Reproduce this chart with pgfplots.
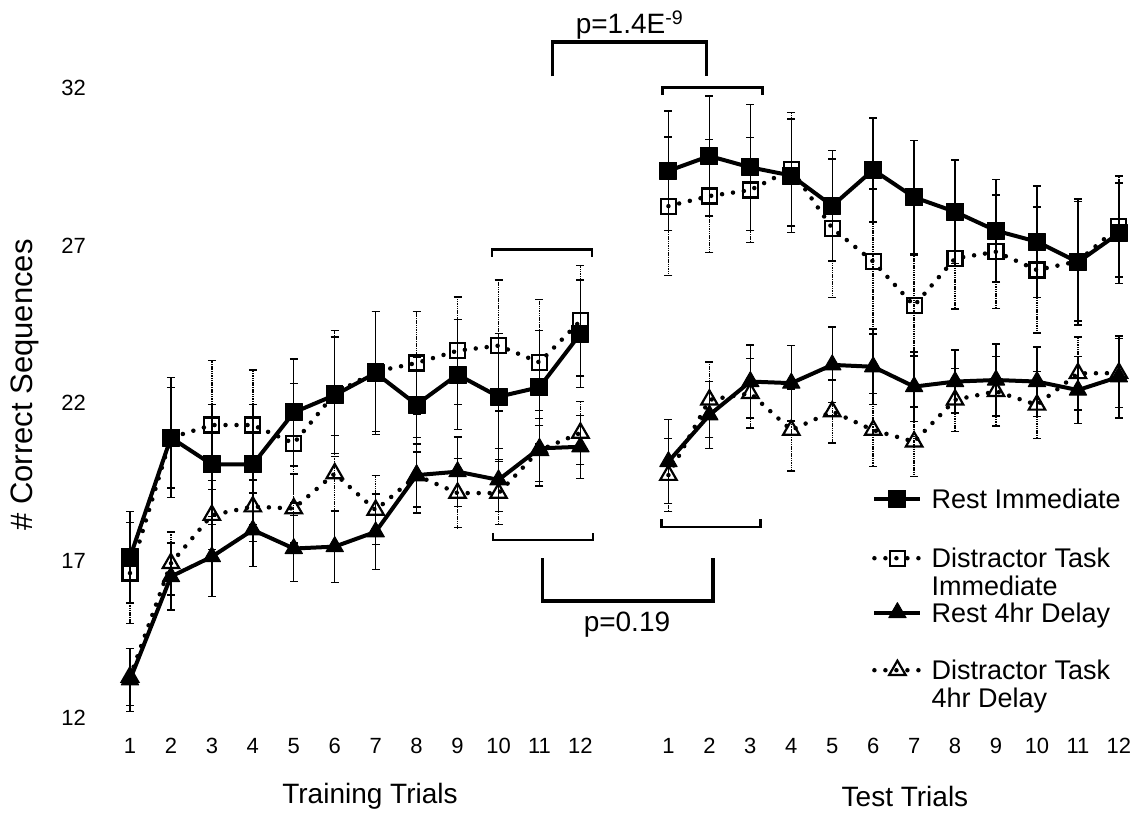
\documentclass[border=0pt]{standalone}
\usepackage{pgfplots}
\usepackage{pgfplotstable}
\pgfplotsset{compat=1.18}
\usepackage{fontspec}
\setmainfont{Liberation Sans}

\pgfplotstableread{
x y e
1 17.1 1.45
2 20.9 1.9
3 20.05 1.9
4 20.05 1.9
5 21.7 1.7
6 22.25 1.85
7 22.95 1.95
8 21.95 1.5
9 22.9 1.75
10 22.2 2.0
11 22.5 1.8
12 24.2 1.7
}\riL
\pgfplotstableread{
x y e
14.15 29.37 1.9
15.15 29.84 1.9
16.15 29.48 2.0
17.15 29.22 1.8
18.15 28.26 1.75
19.15 29.40 1.65
20.15 28.53 1.8
21.15 28.07 1.65
22.15 27.47 1.63
23.15 27.12 1.77
24.15 26.47 2.0
25.15 27.39 1.6
}\riR
\pgfplotstableread{
x y e
1 16.6 1.6
2 20.9 1.6
3 21.3 2.05
4 21.3 1.75
5 20.72 1.9
6 22.3 2.0
7 23.0 1.9
8 23.27 1.63
9 23.66 1.7
10 23.82 2.08
11 23.29 2.0
12 24.61 1.75
}\diL
\pgfplotstableread{
x y e
14.15 28.25 2.2
15.15 28.57 1.8
16.15 28.76 1.66
17.15 29.42 1.8
18.15 27.55 2.2
19.15 26.49 2.3
20.15 25.09 1.6
21.15 26.59 1.6
22.15 26.80 1.8
23.15 26.22 2.0
24.15 26.5 1.9
25.15 27.6 1.6
}\diR
\pgfplotstableread{
x y e
1 13.21 1.0
2 16.49 1.06
3 17.12 1.27
4 17.97 1.17
5 17.38 1.05
6 17.44 1.14
7 17.91 1.2
8 19.71 1.2
9 19.82 1.1
10 19.56 1.0
11 20.56 1.2
12 20.61 1.0
}\rfL
\pgfplotstableread{
x y e
14.15 20.14 1.34
15.15 21.62 1.06
16.15 22.68 1.16
17.15 22.63 1.2
18.15 23.21 1.2
19.15 23.15 1.2
20.15 22.52 1.1
21.15 22.68 1.0
22.15 22.73 1.14
23.15 22.68 1.1
24.15 22.41 1.06
25.15 22.83 1.3
}\rfR
\pgfplotstableread{
x y e
1 13.3 0.9
2 16.91 1.0
3 18.44 1.1
4 18.71 1.1
5 18.65 1.1
6 19.76 1.2
7 18.6 1.1
8 19.7 1.0
9 19.14 1.1
10 19.14 1.0
11 20.5 1.0
12 21.05 1.0
}\dfL
\pgfplotstableread{
x y e
14.15 19.71 1.16
15.15 22.1 1.2
16.15 22.31 1.1
17.15 21.14 1.3
18.15 21.73 1.0
19.15 21.14 1.16
20.15 20.77 1.1
21.15 22.1 1.0
22.15 22.37 1.1
23.15 21.94 1.06
24.15 22.94 1.16
25.15 22.95 1.1
}\dfR

\pgfplotsset{
  solidser/.style={black, line width=4pt, line join=round,
    error bars/y dir=both, error bars/y explicit,
    error bars/error bar style={line width=1.4pt, solid},
    error bars/error mark options={rotate=90, mark size=4pt, line width=1.4pt, solid}},
  dotser/.style={black, line width=4.5pt, line cap=round, dash pattern=on 0pt off 11pt,
    error bars/y dir=both, error bars/y explicit,
    error bars/error bar style={line width=1.4pt, dash pattern=on 1.5pt off 0.8pt, line cap=butt},
    error bars/error mark options={rotate=90, mark size=4pt, line width=1.4pt, solid}},
  sqF/.style={mark=square*, mark size=8.5pt, mark options={solid, line width=1pt}},
  sqO/.style={mark=square, mark size=7.5pt, mark options={solid, line width=2.2pt}},
  trF/.style={mark=triangle*, mark size=10pt, mark options={solid, line width=1pt}},
  trO/.style={mark=triangle, mark size=9.5pt, mark options={solid, line width=2.2pt}},
}

\begin{document}
\begin{tikzpicture}
\begin{axis}[
  scale only axis, width=1027.8pt, height=677.25pt,
  xmin=0.5, xmax=25.6, ymin=11.5, ymax=33,
  axis line style={draw=none}, tick style={draw=none},
  major tick length=0pt,
  clip=false,
  xtick={1,2,3,4,5,6,7,8,9,10,11,12,14.15,15.15,16.15,17.15,18.15,19.15,20.15,21.15,22.15,23.15,24.15,25.15},
  xticklabels={1,2,3,4,5,6,7,8,9,10,11,12,1,2,3,4,5,6,7,8,9,10,11,12},
  ytick={12,17,22,27,32},
  /pgf/number format/assume math mode=true,
  ticklabel style={font=\fontsize{22}{26}\selectfont},
  xticklabel style={yshift=-1pt},
  yticklabel style={xshift=-20pt},
  ylabel={\# Correct Sequences},
  ylabel style={font=\fontsize{31}{36}\selectfont, at={(axis description cs:-0.0822,0.515)}, anchor=center},
  legend style={at={(axis cs:19.12,19.365)}, anchor=north west, draw=none, fill=none,
    inner sep=0pt, row sep=0pt, column sep=7pt,
    cells={anchor=base west, inner sep=0pt},
    font=\fontsize{27}{28}\selectfont},
  legend image code/.code={\draw[mark repeat=2,mark phase=2] plot coordinates {(0pt,9.5pt) (23pt,9.5pt) (46pt,9.5pt)};},
]
\addplot[solidser, sqF] table[x=x,y=y,y error=e] {\riL};
\addlegendentry{\rule{0pt}{20pt}Rest Immediate}
\addplot[dotser, sqO] table[x=x,y=y,y error=e] {\diL};
\addlegendentry{\rule{0pt}{54pt}\smash{\vtop{\hbox{Distractor Task}\hbox{Immediate}}}}
\addplot[solidser, trF] table[x=x,y=y,y error=e] {\rfL};
\addlegendentry{\rule{0pt}{49pt}Rest 4hr Delay}
\addplot[dotser, trO] table[x=x,y=y,y error=e] {\dfL};
\addlegendentry{\rule{0pt}{52pt}\smash{\vtop{\hbox{Distractor Task}\hbox{4hr Delay}}}}

\addplot[solidser, sqF, forget plot] table[x=x,y=y,y error=e] {\riR};
\addplot[dotser, sqO, forget plot] table[x=x,y=y,y error=e] {\diR};
\addplot[solidser, trF, forget plot] table[x=x,y=y,y error=e] {\rfR};
\addplot[dotser, trO, forget plot] table[x=x,y=y,y error=e] {\dfR};

% brackets
\draw[line width=2.6pt] (axis cs:9.84,26.635) -- (axis cs:9.84,26.873) -- (axis cs:12.28,26.873) -- (axis cs:12.28,26.635);
\draw[line width=2.6pt] (axis cs:9.865,17.873) -- (axis cs:9.865,17.651) -- (axis cs:12.307,17.651) -- (axis cs:12.307,17.873);
\draw[line width=2.6pt] (axis cs:14.009,31.778) -- (axis cs:14.009,32.016) -- (axis cs:16.451,32.016) -- (axis cs:16.451,31.778);
\draw[line width=2.6pt] (axis cs:13.985,18.317) -- (axis cs:13.985,18.063) -- (axis cs:16.402,18.063) -- (axis cs:16.402,18.317);
\draw[line width=3.2pt] (axis cs:11.323,32.365) -- (axis cs:11.323,33.460) -- (axis cs:15.084,33.460) -- (axis cs:15.084,32.365);
\draw[line width=3.2pt] (axis cs:11.069,17.079) -- (axis cs:11.069,15.714) -- (axis cs:15.237,15.714) -- (axis cs:15.237,17.079);
\node[font=\fontsize{28}{32}\selectfont] at (axis cs:13.2,34.0) {p=1.4E\textsuperscript{-9}};
\node[font=\fontsize{28}{32}\selectfont] at (axis cs:13.137,14.952) {p=0.19};
\node[font=\fontsize{28}{32}\selectfont] at (axis cs:6.861,9.5) {Training Trials};
\node[font=\fontsize{28}{32}\selectfont] at (axis cs:19.926,9.5) {Test Trials};
\end{axis}
\pgfresetboundingbox
\path[use as bounding box] (-109.5pt,-82.25pt) rectangle (1038.5pt,733.75pt);
\end{tikzpicture}
\end{document}
